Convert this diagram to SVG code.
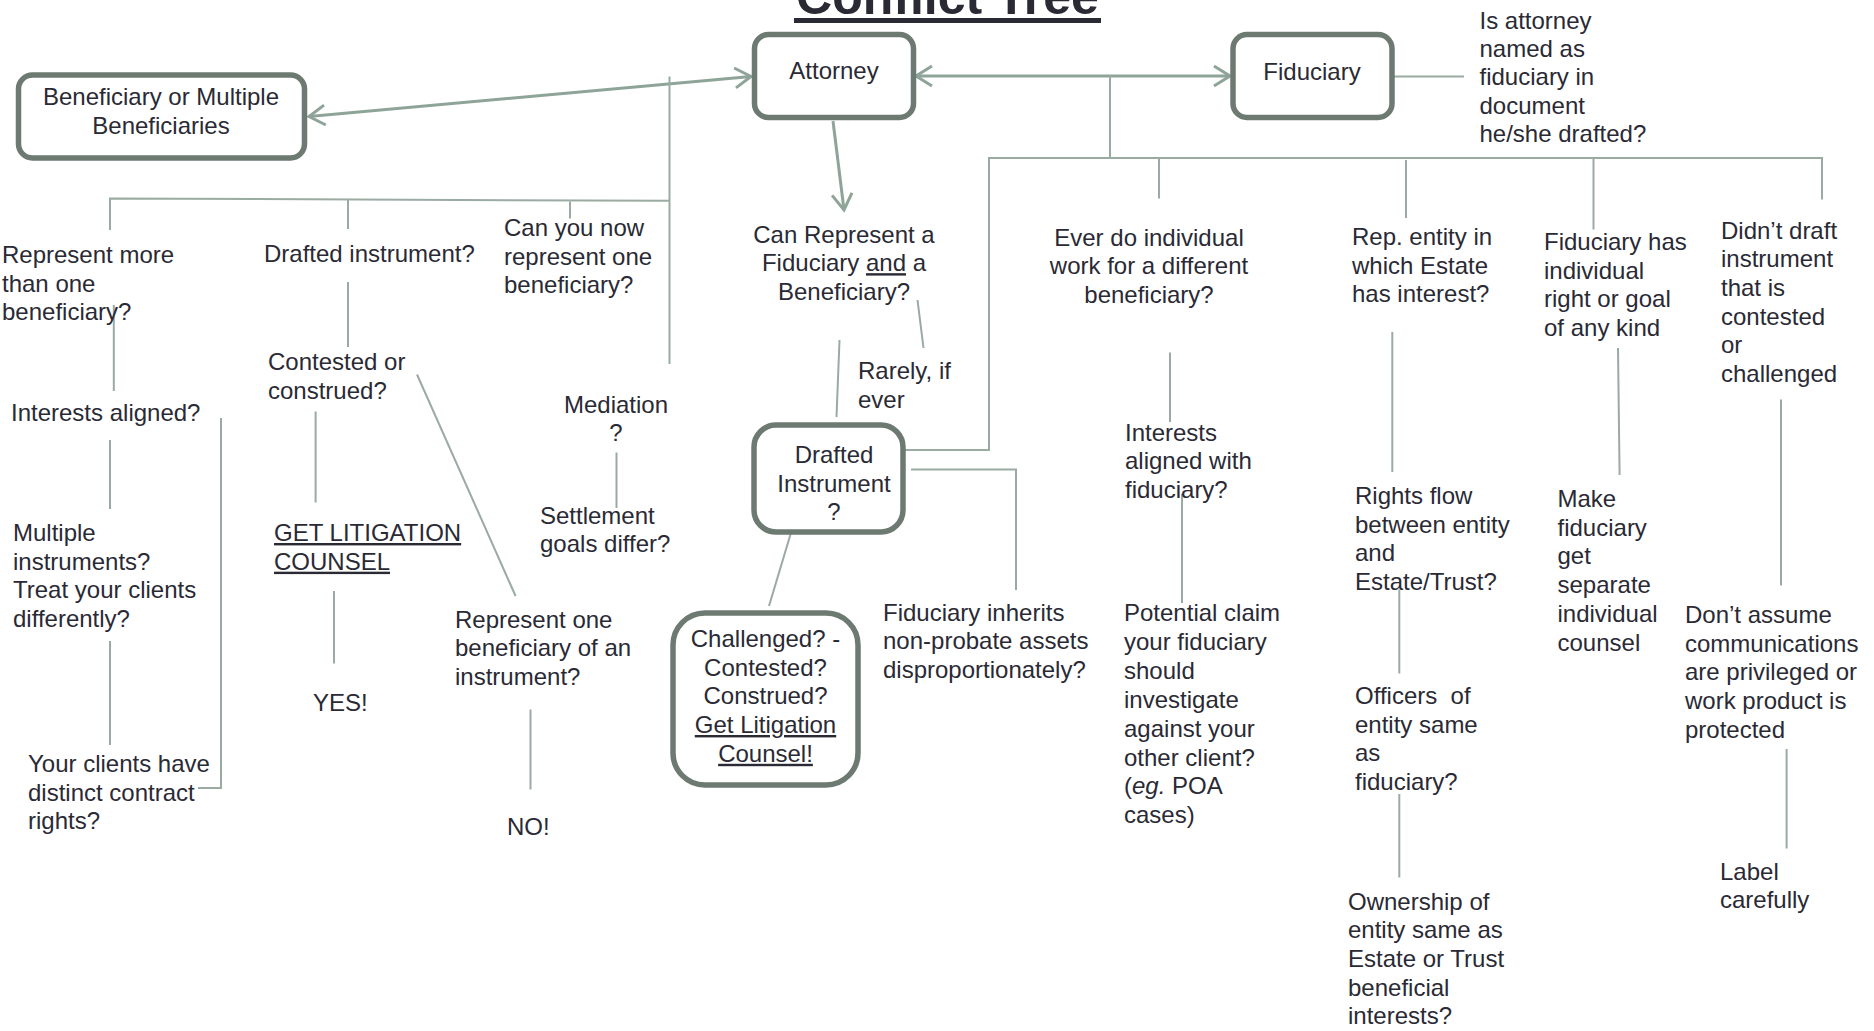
<svg xmlns="http://www.w3.org/2000/svg" width="1874" height="1031" viewBox="0 0 1874 1031">
<style>
.t{font-family:"Liberation Sans",Arial,sans-serif;font-size:24px;fill:#2a2a35}
.m{text-anchor:middle}
.u{text-decoration:underline}
.box{fill:#ffffff;stroke:#6d7a71;stroke-width:5.5}
.c{fill:none;stroke:#9aaba2;stroke-width:2}
.a{fill:none;stroke:#8fa498;stroke-width:3}
.title{font-family:"Liberation Sans",Arial,sans-serif;font-size:50px;font-weight:bold;fill:#2a2a35;text-anchor:middle}
</style>
<defs>
<marker id="arr" markerUnits="userSpaceOnUse" markerWidth="22" markerHeight="24" viewBox="0 0 22 24" refX="19" refY="12" orient="auto-start-reverse">
<path d="M3,2 L19,12 L3,22" fill="none" stroke="#8fa498" stroke-width="3"/>
</marker>
</defs>

<g id="title">
<text class="title" x="947.5" y="14">Conflict Tree</text>
<line x1="794" y1="20.5" x2="1101" y2="20.5" stroke="#2a2a35" stroke-width="5"/>
</g>

<g id="connectors">
<line class="a" x1="751" y1="76.5" x2="309" y2="116.5" marker-start="url(#arr)" marker-end="url(#arr)"/>
<line class="a" x1="916" y1="76" x2="1230" y2="76" marker-start="url(#arr)" marker-end="url(#arr)"/>
<line class="a" x1="833" y1="121" x2="844" y2="210" marker-end="url(#arr)"/>
<!-- left tree -->
<line class="c" x1="669.5" y1="76.5" x2="669.5" y2="364"/>
<polyline class="c" points="110,230 110,198.5 669.5,200.8"/>
<line class="c" x1="348" y1="199.5" x2="348" y2="229"/>
<line class="c" x1="570" y1="201.5" x2="570" y2="218.5"/>
<line class="c" x1="113.8" y1="305" x2="113.8" y2="391"/>
<line class="c" x1="110" y1="440" x2="110" y2="509"/>
<line class="c" x1="110" y1="641" x2="110" y2="745"/>
<polyline class="c" points="221,418 221,788 198,788"/>
<line class="c" x1="348" y1="282" x2="348" y2="347"/>
<line class="c" x1="315.6" y1="411.5" x2="315.6" y2="502.5"/>
<line class="c" x1="334" y1="591" x2="334" y2="663.5"/>
<line class="c" x1="417" y1="374.5" x2="515.6" y2="596"/>
<line class="c" x1="530.5" y1="709.5" x2="530.5" y2="789.5"/>
<line class="c" x1="616.5" y1="452.5" x2="616.5" y2="508"/>
<!-- middle -->
<line class="c" x1="917.5" y1="300" x2="923.5" y2="348"/>
<line class="c" x1="839.5" y1="340" x2="836.5" y2="417"/>
<line class="c" x1="791.5" y1="531" x2="769" y2="606"/>
<polyline class="c" points="911,469.5 1016,469.5 1016,590"/>
<!-- right tree -->
<line class="c" x1="1110" y1="76" x2="1110" y2="158"/>
<polyline class="c" points="905,450 989,450 989,158 1822,158 1822,199.5"/>
<line class="c" x1="1159" y1="158" x2="1159" y2="198.5"/>
<line class="c" x1="1406" y1="160" x2="1406" y2="218"/>
<line class="c" x1="1593.5" y1="158" x2="1593.5" y2="229.5"/>
<line class="c" x1="1394" y1="76.5" x2="1464" y2="76.5"/>
<line class="c" x1="1170" y1="352.5" x2="1170" y2="422"/>
<line class="c" x1="1182" y1="494" x2="1182" y2="603"/>
<line class="c" x1="1392.3" y1="332" x2="1392.3" y2="472"/>
<line class="c" x1="1399.3" y1="589.5" x2="1399.3" y2="673.5"/>
<line class="c" x1="1399.3" y1="794" x2="1399.3" y2="877.5"/>
<line class="c" x1="1618" y1="348" x2="1619.6" y2="475"/>
<line class="c" x1="1781" y1="399.5" x2="1781" y2="585.5"/>
<line class="c" x1="1786.6" y1="749" x2="1786.6" y2="848.5"/>
</g>

<g id="attorney">
<rect class="box" x="754.5" y="34.5" width="159" height="83" rx="14"/>
<text class="t m" x="834" y="78.5">Attorney</text>
</g>
<g id="fiduciary">
<rect class="box" x="1233" y="34.5" width="159" height="83" rx="14"/>
<text class="t m" x="1312" y="80">Fiduciary</text>
</g>
<g id="beneficiary">
<rect class="box" x="18.5" y="75" width="286" height="83" rx="14"/>
<text class="t m" x="161" y="104.5">Beneficiary or Multiple</text>
<text class="t m" x="161" y="133.5">Beneficiaries</text>
</g>
<g id="drafted-instrument">
<rect class="box" x="754" y="425" width="149" height="107" rx="22"/>
<text class="t m" x="834" y="463">Drafted</text>
<text class="t m" x="834" y="491.7">Instrument</text>
<text class="t m" x="834" y="520.4">?</text>
</g>
<g id="challenged">
<rect class="box" x="673" y="613" width="185" height="172" rx="32"/>
<text class="t m" x="765.5" y="646.7">Challenged? -</text>
<text class="t m" x="765.5" y="675.5">Contested?</text>
<text class="t m" x="765.5" y="704.3">Construed?</text>
<text class="t m u" x="765.5" y="733">Get Litigation</text>
<text class="t m u" x="765.5" y="761.8">Counsel!</text>
</g>

<g id="represent-more">
<text class="t" x="2" y="263">Represent more</text>
<text class="t" x="2" y="291.7">than one</text>
<text class="t" x="2" y="320.4">beneficiary?</text>
</g>
<g id="drafted-q">
<text class="t" x="264" y="262">Drafted instrument?</text>
</g>
<g id="can-you-now">
<text class="t" x="504" y="236">Can you now</text>
<text class="t" x="504" y="264.7">represent one</text>
<text class="t" x="504" y="293.4">beneficiary?</text>
</g>
<g id="interests-aligned">
<text class="t" x="11" y="421">Interests aligned?</text>
</g>
<g id="contested">
<text class="t" x="268" y="370">Contested or</text>
<text class="t" x="268" y="398.7">construed?</text>
</g>
<g id="multiple">
<text class="t" x="13" y="541">Multiple</text>
<text class="t" x="13" y="569.7">instruments?</text>
<text class="t" x="13" y="598.4">Treat your clients</text>
<text class="t" x="13" y="627.1">differently?</text>
</g>
<g id="get-litigation">
<text class="t u" x="274" y="541">GET LITIGATION</text>
<text class="t u" x="274" y="569.7">COUNSEL</text>
</g>
<g id="yes">
<text class="t" x="313" y="711">YES!</text>
</g>
<g id="distinct">
<text class="t" x="28" y="772">Your clients have</text>
<text class="t" x="28" y="800.7">distinct contract</text>
<text class="t" x="28" y="829.4">rights?</text>
</g>
<g id="represent-one">
<text class="t" x="455" y="627.5">Represent one</text>
<text class="t" x="455" y="656.2">beneficiary of an</text>
<text class="t" x="455" y="684.9">instrument?</text>
</g>
<g id="no">
<text class="t" x="507" y="835">NO!</text>
</g>
<g id="mediation">
<text class="t m" x="616" y="412.5">Mediation</text>
<text class="t m" x="616" y="441.2">?</text>
</g>
<g id="settlement">
<text class="t" x="540" y="523.5">Settlement</text>
<text class="t" x="540" y="552.2">goals differ?</text>
</g>
<g id="can-represent">
<text class="t m" x="844" y="242.5">Can Represent a</text>
<text class="t m" x="844" y="271.2">Fiduciary <tspan style="text-decoration:underline">and</tspan> a</text>
<text class="t m" x="844" y="299.9">Beneficiary?</text>
</g>
<g id="rarely">
<text class="t" x="858" y="379">Rarely, if</text>
<text class="t" x="858" y="407.7">ever</text>
</g>
<g id="ever-do">
<text class="t m" x="1149" y="245.5">Ever do individual</text>
<text class="t m" x="1149" y="274.2">work for a different</text>
<text class="t m" x="1149" y="302.9">beneficiary?</text>
</g>
<g id="interests-fid">
<text class="t" x="1125" y="440.5">Interests</text>
<text class="t" x="1125" y="469.2">aligned with</text>
<text class="t" x="1125" y="497.9">fiduciary?</text>
</g>
<g id="inherits">
<text class="t" x="883" y="620.5">Fiduciary inherits</text>
<text class="t" x="883" y="649.2">non-probate assets</text>
<text class="t" x="883" y="677.9">disproportionately?</text>
</g>
<g id="potential">
<text class="t" x="1124" y="621">Potential claim</text>
<text class="t" x="1124" y="649.9">your fiduciary</text>
<text class="t" x="1124" y="678.8">should</text>
<text class="t" x="1124" y="707.7">investigate</text>
<text class="t" x="1124" y="736.6">against your</text>
<text class="t" x="1124" y="765.5">other client?</text>
<text class="t" x="1124" y="794.4">(<tspan font-style="italic">eg.</tspan> POA</text>
<text class="t" x="1124" y="823.3">cases)</text>
</g>
<g id="rep-entity">
<text class="t" x="1352" y="245">Rep. entity in</text>
<text class="t" x="1352" y="273.7">which Estate</text>
<text class="t" x="1352" y="302.4">has interest?</text>
</g>
<g id="fid-has">
<text class="t" x="1544" y="250">Fiduciary has</text>
<text class="t" x="1544" y="278.7">individual</text>
<text class="t" x="1544" y="307.4">right or goal</text>
<text class="t" x="1544" y="336.1">of any kind</text>
</g>
<g id="didnt-draft">
<text class="t" x="1721" y="238.5">Didn’t draft</text>
<text class="t" x="1721" y="267.2">instrument</text>
<text class="t" x="1721" y="295.9">that is</text>
<text class="t" x="1721" y="324.6">contested</text>
<text class="t" x="1721" y="353.3">or</text>
<text class="t" x="1721" y="382">challenged</text>
</g>
<g id="is-attorney">
<text class="t" x="1479.5" y="28.5">Is attorney</text>
<text class="t" x="1479.5" y="56.9">named as</text>
<text class="t" x="1479.5" y="85.3">fiduciary in</text>
<text class="t" x="1479.5" y="113.7">document</text>
<text class="t" x="1479.5" y="142.1">he/she drafted?</text>
</g>
<g id="rights-flow">
<text class="t" x="1355" y="504">Rights flow</text>
<text class="t" x="1355" y="532.7">between entity</text>
<text class="t" x="1355" y="561.4">and</text>
<text class="t" x="1355" y="590.1">Estate/Trust?</text>
</g>
<g id="officers">
<text class="t" x="1355" y="704">Officers&#160; of</text>
<text class="t" x="1355" y="732.7">entity same</text>
<text class="t" x="1355" y="761.4">as</text>
<text class="t" x="1355" y="790.1">fiduciary?</text>
</g>
<g id="ownership">
<text class="t" x="1348" y="909.5">Ownership of</text>
<text class="t" x="1348" y="938.2">entity same as</text>
<text class="t" x="1348" y="966.9">Estate or Trust</text>
<text class="t" x="1348" y="995.6">beneficial</text>
<text class="t" x="1348" y="1024.3">interests?</text>
</g>
<g id="make-fid">
<text class="t" x="1557.5" y="507">Make</text>
<text class="t" x="1557.5" y="535.7">fiduciary</text>
<text class="t" x="1557.5" y="564.4">get</text>
<text class="t" x="1557.5" y="593.1">separate</text>
<text class="t" x="1557.5" y="621.8">individual</text>
<text class="t" x="1557.5" y="650.5">counsel</text>
</g>
<g id="dont-assume">
<text class="t" x="1685" y="623">Don’t assume</text>
<text class="t" x="1685" y="651.7">communications</text>
<text class="t" x="1685" y="680.4">are privileged or</text>
<text class="t" x="1685" y="709.1">work product is</text>
<text class="t" x="1685" y="737.8">protected</text>
</g>
<g id="label">
<text class="t" x="1720" y="879.5">Label</text>
<text class="t" x="1720" y="908.2">carefully</text>
</g>
</svg>
